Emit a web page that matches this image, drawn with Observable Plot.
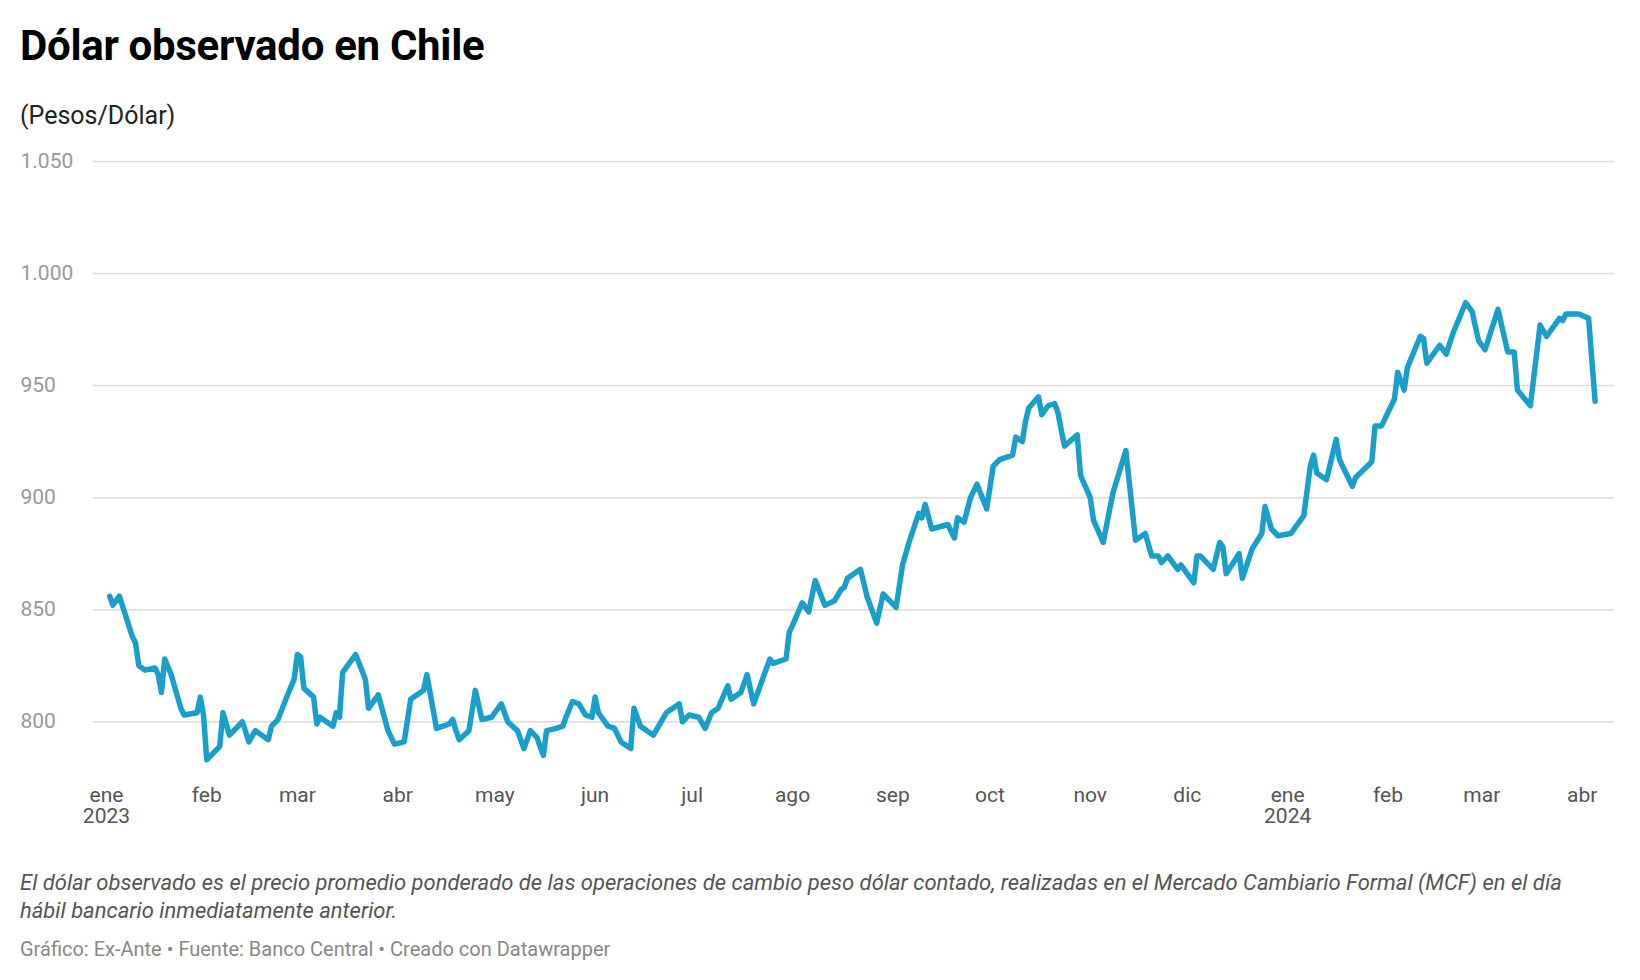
<!DOCTYPE html>
<html><head><meta charset="utf-8">
<script src="https://cdn.jsdelivr.net/npm/d3@7"></script>
<script src="https://cdn.jsdelivr.net/npm/@observablehq/plot@0.6"></script>
<style>
body{margin:0;background:#fff;font-family:Roboto,sans-serif;}
#wrap{padding:20px 20px 0 20px;width:1600px;}
h1{margin:0;font-size:42px;font-weight:700;color:#000;letter-spacing:-0.3px;line-height:52px;}
.sub{font-size:25px;color:#222;margin-top:29px;line-height:30px;}
.note{font-size:22px;font-style:italic;color:#555;line-height:28px;margin-top:26px;width:1570px;}
.cred{font-size:20px;color:#888;margin-top:12px;}
</style></head><body>
<div id="wrap">
<h1>Dólar observado en Chile</h1>
<div class="sub">(Pesos/Dólar)</div>
<div id="chart"></div>
<div class="note">El dólar observado es el precio promedio ponderado de las operaciones de cambio peso dólar contado, realizadas en el Mercado Cambiario Formal (MCF) en el día hábil bancario inmediatamente anterior.</div>
<div class="cred">Gráfico: Ex-Ante • Fuente: Banco Central • Creado con Datawrapper</div>
</div>
<script>
const dates = ["2023-01-02","2023-01-03","2023-01-05","2023-01-07","2023-01-09","2023-01-10","2023-01-11","2023-01-13","2023-01-16","2023-01-17","2023-01-18","2023-01-19","2023-01-21","2023-01-24","2023-01-25","2023-01-29","2023-01-30","2023-01-31","2023-02-01","2023-02-05","2023-02-06","2023-02-08","2023-02-12","2023-02-14","2023-02-16","2023-02-20","2023-02-21","2023-02-23","2023-02-26","2023-02-28","2023-03-01","2023-03-02","2023-03-03","2023-03-06","2023-03-07","2023-03-08","2023-03-12","2023-03-13","2023-03-14","2023-03-15","2023-03-17","2023-03-19","2023-03-22","2023-03-23","2023-03-26","2023-03-29","2023-03-31","2023-04-03","2023-04-05","2023-04-09","2023-04-10","2023-04-13","2023-04-17","2023-04-18","2023-04-19","2023-04-20","2023-04-23","2023-04-25","2023-04-27","2023-04-30","2023-05-03","2023-05-05","2023-05-08","2023-05-10","2023-05-12","2023-05-14","2023-05-16","2023-05-17","2023-05-20","2023-05-22","2023-05-23","2023-05-25","2023-05-27","2023-05-29","2023-05-31","2023-06-01","2023-06-02","2023-06-05","2023-06-07","2023-06-09","2023-06-12","2023-06-13","2023-06-15","2023-06-19","2023-06-23","2023-06-27","2023-06-28","2023-06-30","2023-07-03","2023-07-05","2023-07-07","2023-07-09","2023-07-12","2023-07-13","2023-07-16","2023-07-18","2023-07-20","2023-07-22","2023-07-25","2023-07-26","2023-07-30","2023-07-31","2023-08-01","2023-08-04","2023-08-06","2023-08-08","2023-08-11","2023-08-14","2023-08-16","2023-08-17","2023-08-18","2023-08-22","2023-08-24","2023-08-27","2023-08-29","2023-09-02","2023-09-04","2023-09-06","2023-09-09","2023-09-10","2023-09-11","2023-09-13","2023-09-18","2023-09-20","2023-09-21","2023-09-23","2023-09-25","2023-09-27","2023-09-30","2023-10-02","2023-10-04","2023-10-08","2023-10-09","2023-10-11","2023-10-12","2023-10-13","2023-10-16","2023-10-17","2023-10-19","2023-10-21","2023-10-22","2023-10-24","2023-10-28","2023-10-29","2023-11-01","2023-11-02","2023-11-05","2023-11-08","2023-11-12","2023-11-15","2023-11-18","2023-11-20","2023-11-22","2023-11-23","2023-11-25","2023-11-28","2023-11-29","2023-12-03","2023-12-04","2023-12-05","2023-12-09","2023-12-11","2023-12-12","2023-12-13","2023-12-17","2023-12-18","2023-12-21","2023-12-24","2023-12-25","2023-12-27","2023-12-29","2024-01-02","2024-01-06","2024-01-08","2024-01-09","2024-01-10","2024-01-13","2024-01-16","2024-01-17","2024-01-19","2024-01-21","2024-01-22","2024-01-27","2024-01-28","2024-01-30","2024-02-03","2024-02-04","2024-02-06","2024-02-07","2024-02-11","2024-02-12","2024-02-13","2024-02-17","2024-02-19","2024-02-21","2024-02-25","2024-02-27","2024-02-29","2024-03-02","2024-03-06","2024-03-09","2024-03-11","2024-03-12","2024-03-16","2024-03-19","2024-03-21","2024-03-25","2024-03-26","2024-03-27","2024-03-31","2024-04-03","2024-04-05"];
const values = [856,852,856,847,838,835,825,823,824,821,813,828,821,806,803,804,811,803,783,789,804,794,800,791,796,792,798,801,812,819,830,829,815,811,799,802,798,804,802,822,826,830,819,806,812,796,790,791,810,814,821,797,799,801,796,792,796,814,801,802,808,800,796,788,796,793,785,796,797,798,802,809,808,803,802,811,804,798,797,791,788,806,798,794,804,808,800,803,802,797,804,806,816,810,813,821,808,816,828,826,828,840,843,853,849,863,852,854,859,860,864,868,856,844,857,851,870,880,893,891,897,886,888,882,891,889,900,906,895,914,917,919,927,925,934,940,945,937,941,942,938,923,928,910,900,890,880,902,921,881,884,874,874,871,874,868,870,862,874,874,868,880,878,866,875,864,877,884,896,886,883,884,892,914,919,911,908,926,917,911,905,909,916,932,932,944,956,948,958,972,971,960,968,964,973,987,983,970,966,984,965,965,948,941,977,972,980,979,982,982,980,943];
const yTicks = [800,850,900,950,1000,1050];
const monthNames = ["ene","feb","mar","abr","may","jun","jul","ago","sep","oct","nov","dic"];

const data = dates.map((d,i)=>({date:new Date(d+"T00:00:00"), value:values[i]}));
const fmt = d3.formatLocale({decimal:",",thousands:".",grouping:[3]}).format(",d");
const xTicks = d3.timeMonth.range(new Date("2023-01-01T00:00:00"), new Date("2024-04-02T00:00:00"));

const plot = Plot.plot({
  width:1600, height:712,
  marginLeft:73, marginRight:6, marginTop:30, marginBottom:68,
  style:{fontFamily:"Roboto, sans-serif", fontSize:"21px", background:"#fff", overflow:"visible"},
  x:{type:"time", domain:[new Date("2022-12-28T00:00:00"), new Date("2024-04-11T00:00:00")]},
  y:{domain:[776,1050]},
  marks:[
    Plot.gridY(yTicks,{stroke:"#dcdcdc", strokeOpacity:1, strokeWidth:1.5}),
    Plot.axisY(yTicks,{tickSize:0, tickPadding:0, tickFormat:fmt, textAnchor:"start", dx:-73, fill:"#999", fontSize:21, label:null}),
    Plot.axisX(xTicks,{tickSize:0, tickPadding:12, fill:"#555", fontSize:21, label:null,
      tickFormat:d=>d.getMonth()===0 ? monthNames[0]+"\n"+d.getFullYear() : monthNames[d.getMonth()]}),
    Plot.line(data,{x:"date", y:"value", stroke:"#1a9fcb", strokeWidth:5.5, strokeLinejoin:"round", strokeLinecap:"round"})
  ]
});
document.getElementById("chart").appendChild(plot);
</script>
</body></html>
